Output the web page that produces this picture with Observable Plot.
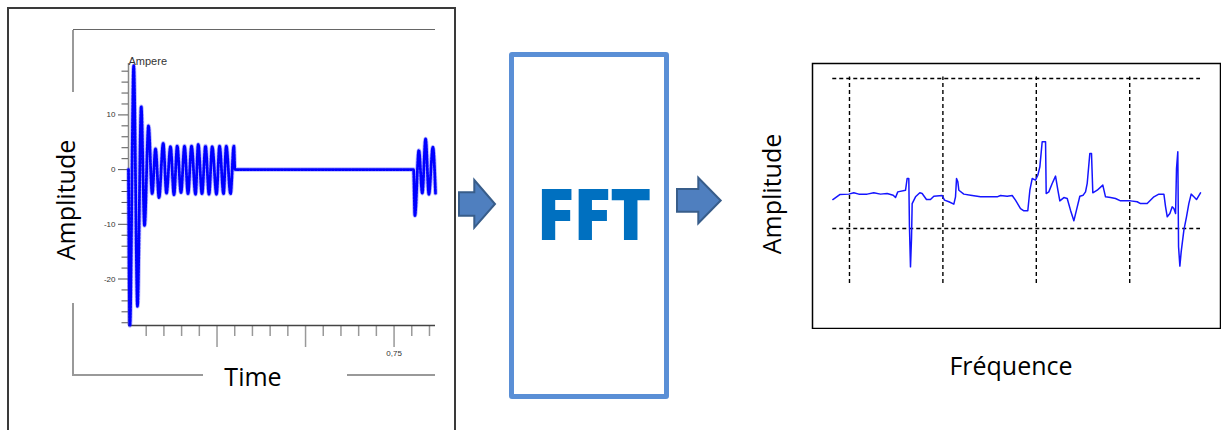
<!DOCTYPE html>
<html><head><meta charset="utf-8">
<script src="https://cdn.jsdelivr.net/npm/d3@7"></script>
<script src="https://cdn.jsdelivr.net/npm/@observablehq/plot@0.6"></script>
<style>
body{margin:0;background:#fff;}
#page{position:relative;width:1227px;height:430px;overflow:hidden;background:#fff;font-family:"Open Sans",sans-serif;}
.abs{position:absolute;box-sizing:border-box;}
.lbl{position:absolute;font-family:"Open Sans",sans-serif;font-size:25px;line-height:25px;color:#000;white-space:nowrap;}
.rot{transform:translate(-50%,-50%) rotate(-90deg);}
.hc{transform:translateX(-50%);}
</style></head><body>
<div id="page">
  <div class="abs" style="left:7px;top:7px;width:449px;height:440px;border:2px solid #3a3a3a;border-bottom:none;"></div>
  <div class="abs" style="left:73px;top:29px;width:362px;height:0;border-top:1.5px solid #666;"></div>
  <div class="abs" style="left:72px;top:30px;width:0;height:62px;border-left:2px solid #999;"></div>
  <div class="abs" style="left:72px;top:303px;width:0;height:73px;border-left:2px solid #999;"></div>
  <div class="abs" style="left:72px;top:374px;width:131px;height:0;border-top:2px solid #999;"></div>
  <div class="abs" style="left:347px;top:374px;width:88px;height:0;border-top:2px solid #999;"></div>
  <div class="lbl rot" style="left:65px;top:200px;">Amplitude</div>
  <div class="lbl hc" style="left:253px;top:364px;">Time</div>
  <div id="leftChart" class="abs" style="left:0;top:0;"></div>

  <div class="abs" style="left:509px;top:52px;width:160px;height:347px;border:5px solid #5a8fd6;border-radius:3px;"></div>
  <div class="abs hc" style="left:593px;top:178px;font-family:'Open Sans',sans-serif;font-weight:800;font-size:70px;line-height:70px;color:#0070c0;letter-spacing:-1px;padding-left:1px;">FFT</div>
  <svg class="abs" style="left:0;top:0;pointer-events:none;" width="1227" height="430">
    <polygon points="459,192.3 474.3,192.3 474.3,180 495,204 474.3,227.7 474.3,215.7 459,215.7" fill="#4f7fbf" stroke="#385d8a" stroke-width="2"/>
    <polygon points="677,189 698.3,189 698.3,177.7 720.7,200.5 698.3,223.3 698.3,211.7 677,211.7" fill="#4f7fbf" stroke="#385d8a" stroke-width="2"/>
  </svg>

  <div class="lbl rot" style="left:771px;top:194px;">Amplitude</div>
  <div class="lbl hc" style="left:1011px;top:353px;">Fréquence</div>
  <div id="rightChart" class="abs" style="left:811px;top:62px;"></div>
</div>
<script>
// ---- Left chart: current vs time (extremes of each half-cycle)
const timeS = [0, 0.004, 0.0147, 0.0254, 0.0359, 0.0452, 0.0565, 0.0669, 0.0763, 0.0862, 0.098, 0.1073, 0.1186, 0.1285, 0.1376, 0.1483, 0.1582, 0.1681, 0.178, 0.1893, 0.1969, 0.2076, 0.2175, 0.2274, 0.2364, 0.2486, 0.2571, 0.2684, 0.276, 0.2881, 0.2975, 0.3005, 0.805, 0.8088, 0.82, 0.8297, 0.839, 0.8483, 0.8596, 0.867];
const currentA = [0, -28.5, 19, -25, 11.5, -10.2, 8, -4.4, 3.8, -5.1, 4.8, -4.3, 4.2, -4.6, 4.3, -4.2, 4.3, -4.4, 4.3, -4.5, 4.6, -4.4, 4.3, -4.5, 4.2, -4.5, 4.3, -4.4, 4.3, -4.4, 4.3, 0, 0, -8.4, 3.5, -4.3, 5.6, -4.5, 4.1, -4.3];
const timeDomain = [0, 0.867];
const currentDomain = [-28.5, 19.4];
const yMajorTicks = [10, 0, -10, -20];
const yMinorTicks = [18, 16, 14, 12, 8, 6, 4, 2, -2, -4, -6, -8, -12, -14, -16, -18, -22, -24, -26, -28];
const xMinorTicks = [0.05, 0.1, 0.15, 0.2, 0.3, 0.35, 0.4, 0.45, 0.55, 0.6, 0.65, 0.7, 0.8, 0.85];
const xMajorTicks = [0.25, 0.5, 0.75];
const xMajorLabels = ["", "", "0,75"];
const unitLabel = ["Ampere"];

// ---- Right chart: spectrum
const freqHz = [82.2,89.6,99.3,104.6,110.0,118.9,126.0,133.2,140.3,146.8,149.3,151.7,160.0,161.7,163.5,164.2,165.3,166.4,167.1,170.7,175.3,177.8,182.4,186.7,190.3,199.2,201.7,206.4,211.7,213.5,214.6,216.0,217.1,222.4,229.6,240.3,258.1,261.7,268.8,274.2,277.7,283.1,286.7,290.9,293.1,295.6,299.1,301.6,303.8,306.3,309.9,310.6,313.4,317.0,320.6,323.1,325.2,329.5,333.1,336.6,340.2,343.0,346.6,350.2,352.7,354.5,357.3,359.1,360.5,365.2,371.2,374.1,379.5,384.8,390.2,400.9,408.0,411.6,418.7,425.9,431.2,436.6,438.4,440.2,443.0,445.5,447.3,449.1,450.1,451.5,452.3,453.7,455.1,458.0,460.8,463.3,465.8,468.7,471.5,475.8];
const specAmp = [1.93,2.26,2.29,2.38,2.29,2.29,2.38,2.29,2.33,2.22,2.06,2.44,2.55,3.33,3.33,0.11,-2.56,-0.67,1.66,2.11,2.38,2.33,1.93,1.93,2.15,2.20,1.89,1.78,1.62,2.11,3.33,3.11,2.55,2.29,2.22,2.11,2.11,2.20,2.15,2.20,1.89,1.33,1.18,1.18,2.55,3.33,3.22,3.55,4.11,5.78,5.78,2.33,2.44,3.0,3.49,2.55,1.84,2.06,2.0,1.22,0.51,1.22,2.15,2.22,2.44,3.0,5.0,5.0,2.38,2.55,2.89,2.11,2.06,2.0,1.84,1.84,1.78,1.66,1.66,2.11,2.29,2.29,1.44,0.78,1.0,1.44,1.33,1.0,4.0,5.11,-1.22,-2.51,-1.56,-0.11,0.78,1.66,2.29,2.11,1.93,2.38];
const freqDomain = [60.4, 497.2];
const specDomain = [-6.67, 11.0];
const freqGrid = [100, 200, 300, 400];
const freqGridSpan = [-3.67, 10.1];
const ampGrid = [0, 10];
const ampGridSpan = [82.1, 475.8];

const signal = timeS.map((t, i) => ({t, a: currentA[i]}));
const spectrum = freqHz.map((f, i) => ({f, a: specAmp[i]}));

const left = Plot.plot({
  width: 460, height: 430,
  marginLeft: 128, marginRight: 25, marginTop: 63, marginBottom: 105,
  style: {background: "transparent", fontFamily: "'Liberation Sans', Arial, sans-serif", fontSize: "8px", color: "#333"},
  x: {domain: timeDomain},
  y: {domain: currentDomain},
  marks: [
    Plot.ruleX([timeDomain[0]], {stroke: "#888", strokeWidth: 1.5}),
    Plot.axisY(yMajorTicks, {label: null, tickSize: 10, tickPadding: 3, stroke: "#555", tickFormat: d => String(d)}),
    Plot.axisY(yMinorTicks, {label: null, tickSize: 6.5, stroke: "#555", tickFormat: () => ""}),
    Plot.axisX(xMinorTicks, {label: null, tickSize: 11, stroke: "#999", strokeWidth: 1.5, tickFormat: () => ""}),
    Plot.axisX(xMajorTicks, {label: null, tickSize: 22, tickPadding: 3, stroke: "#999", strokeWidth: 1.5, tickFormat: d => xMajorLabels[xMajorTicks.indexOf(d)]}),
    Plot.ruleY([currentDomain[0]], {stroke: "#444", strokeWidth: 1.5}),
    Plot.line(signal, {x: "t", y: "a", curve: "monotone-x", stroke: "#3333ff", strokeWidth: 4.5, strokeOpacity: 0.35}),
    Plot.line(signal, {x: "t", y: "a", curve: "monotone-x", stroke: "#0000ff", strokeWidth: 2.8, strokeDasharray: "2.2,1.2"}),
    Plot.text(unitLabel, {frameAnchor: "top-left", dy: -6, textAnchor: "start", fontSize: 11, fill: "#333"})
  ]
});
document.getElementById("leftChart").appendChild(left);

const right = Plot.plot({
  width: 410, height: 267, margin: 1,
  style: {background: "transparent"},
  x: {domain: freqDomain, axis: null},
  y: {domain: specDomain, axis: null},
  marks: [
    Plot.ruleX(freqGrid, {x: d => d, y1: freqGridSpan[0], y2: freqGridSpan[1], stroke: "#000", strokeWidth: 1.4, strokeDasharray: "4,3"}),
    Plot.ruleY(ampGrid, {y: d => d, x1: ampGridSpan[0], x2: ampGridSpan[1], stroke: "#000", strokeWidth: 1.4, strokeDasharray: "4,3"}),
    Plot.line(spectrum, {x: "f", y: "a", stroke: "#1515ff", strokeWidth: 1.5}),
    Plot.frame({stroke: "#000", strokeWidth: 1.5})
  ]
});
document.getElementById("rightChart").appendChild(right);
</script>
</body></html>
